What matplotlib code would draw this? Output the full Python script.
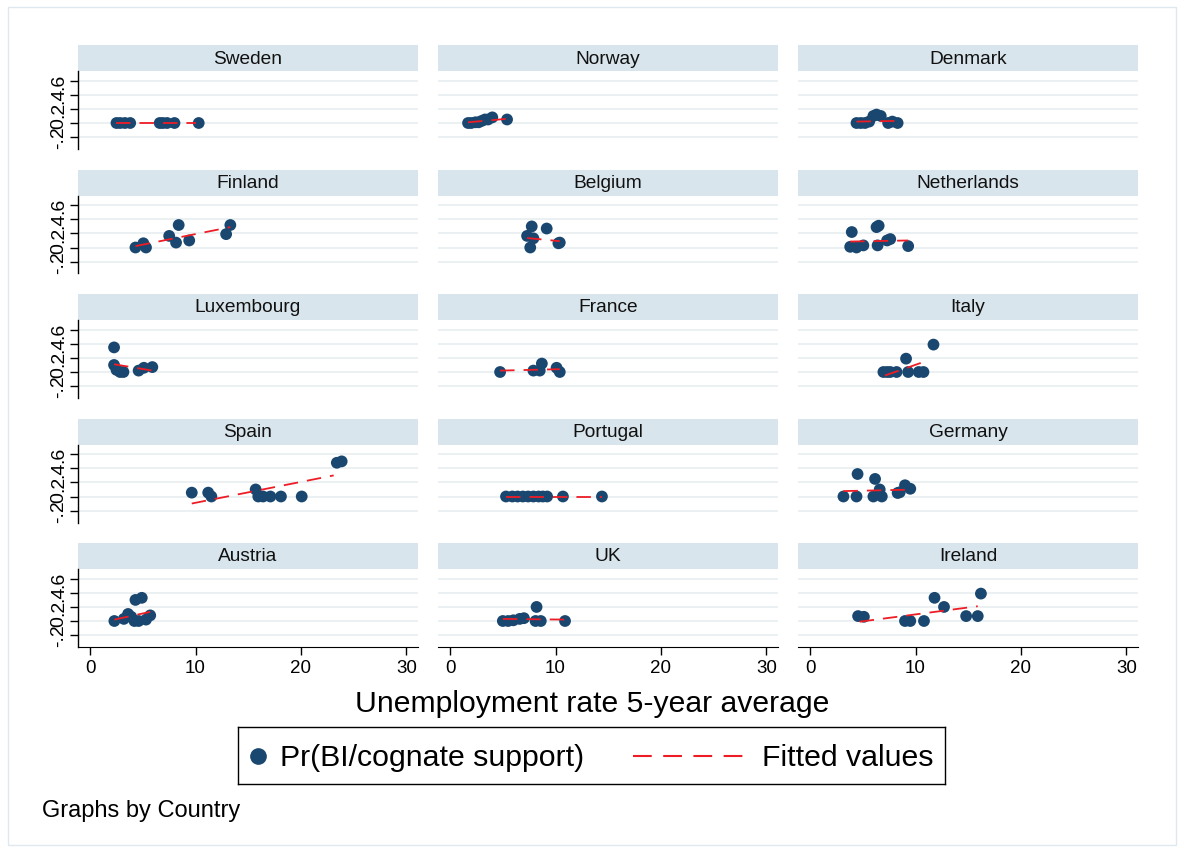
import matplotlib
matplotlib.use('Agg')
import matplotlib.pyplot as plt
from matplotlib.patches import Rectangle

plt.rcParams['font.family'] = ['Liberation Sans', 'DejaVu Sans']

countries = ['Sweden', 'Norway', 'Denmark', 'Finland', 'Belgium', 'Netherlands',
             'Luxembourg', 'France', 'Italy', 'Spain', 'Portugal', 'Germany',
             'Austria', 'UK', 'Ireland']

# unemployment rate (5-year avg) and predicted support, per country
sweden_x = [2.5, 2.85, 3.3, 3.8, 6.6, 6.9, 7.3, 8.0, 10.3]
sweden_y = [0, 0, 0, 0, 0, 0, 0, 0, 0]
norway_x = [1.7, 2.0, 2.4, 2.7, 3.0, 3.3, 3.6, 4.0, 5.4]
norway_y = [0.0, 0.0, 0.01, 0.01, 0.03, 0.05, 0.05, 0.08, 0.05]
denmark_x = [4.4, 4.8, 5.2, 5.6, 6.0, 6.3, 6.7, 7.4, 7.8, 8.3]
denmark_y = [0, 0, 0, 0.02, 0.1, 0.12, 0.1, 0, 0.02, 0]
finland_x = [4.3, 5.05, 5.3, 7.5, 8.15, 8.4, 9.4, 12.9, 13.3]
finland_y = [0, 0.06, 0, 0.165, 0.07, 0.32, 0.1, 0.19, 0.32]
belgium_x = [7.3, 7.6, 7.74, 7.9, 9.16, 10.27, 10.4]
belgium_y = [0.165, 0.0, 0.30, 0.13, 0.27, 0.06, 0.07]
netherlands_x = [3.8, 3.95, 4.4, 5.05, 6.3, 6.5, 6.4, 7.3, 7.6, 9.3]
netherlands_y = [0.01, 0.22, 0.0, 0.03, 0.29, 0.31, 0.03, 0.1, 0.12, 0.02]
luxembourg_x = [2.27, 2.27, 2.5, 2.84, 3.16, 4.6, 5.1, 5.9]
luxembourg_y = [0.35, 0.1, 0.03, 0, 0, 0.02, 0.06, 0.07]
france_x = [4.74, 7.9, 8.5, 8.7, 10.1, 10.4]
france_y = [0, 0.02, 0.02, 0.12, 0.06, 0]
italy_x = [6.95, 7.3, 7.6, 8.2, 9.1, 9.3, 10.3, 10.75, 11.7]
italy_y = [0, 0, 0, 0, 0.19, 0, 0, 0, 0.39]
spain_x = [9.64, 11.2, 11.5, 15.7, 15.95, 16.4, 17.1, 18.1, 20.07, 23.4, 23.86]
spain_y = [0.055, 0.055, 0, 0.1, 0, 0, 0, 0, 0, 0.48, 0.5]
portugal_x = [5.3, 5.9, 6.4, 6.9, 7.4, 7.9, 8.4, 8.8, 9.2, 10.7, 14.4]
portugal_y = [0, 0, 0, 0, 0, 0, 0, 0, 0, 0, 0]
germany_x = [3.16, 4.4, 4.5, 6.0, 6.16, 6.6, 6.8, 8.3, 8.5, 9.0, 9.5]
germany_y = [0, 0, 0.32, 0, 0.25, 0.1, 0, 0.05, 0.06, 0.16, 0.11]
austria_x = [2.3, 3.2, 3.6, 3.9, 4.2, 4.3, 4.6, 4.9, 5.3, 5.7]
austria_y = [0, 0.03, 0.1, 0.06, 0.0, 0.3, 0.0, 0.33, 0.02, 0.08]
uk_x = [5.0, 5.5, 6.0, 6.6, 7.0, 8.1, 8.2, 8.6, 10.9]
uk_y = [0, 0, 0.01, 0.03, 0.04, 0, 0.2, 0, 0]
ireland_x = [4.55, 5.1, 9.0, 9.5, 10.8, 11.8, 12.7, 14.8, 15.9, 16.2]
ireland_y = [0.07, 0.06, 0, 0, 0, 0.33, 0.2, 0.07, 0.07, 0.39]

# fitted values: start/end of the linear fit for each country
fit_x0 = [2.5, 1.7, 4.4, 4.3, 7.3, 3.8, 2.27, 4.74, 7.1, 9.64, 5.3, 3.16, 2.3, 5.0, 4.7]
fit_x1 = [10.0, 5.4, 8.3, 13.3, 10.4, 9.3, 5.9, 10.4, 10.9, 23.1, 14.4, 9.5, 5.7, 10.9, 15.9]
fit_y0 = [0.0, 0.01, 0.02, 0.02, 0.135, 0.085, 0.11, 0.02, -0.05, -0.1, 0.0, 0.077, 0.02, 0.03, -0.01]
fit_y1 = [0.0, 0.06, 0.03, 0.29, 0.09, 0.10, 0.02, 0.04, 0.15, 0.30, 0.0, 0.097, 0.13, 0.02, 0.21]

xs = [sweden_x, norway_x, denmark_x, finland_x, belgium_x, netherlands_x,
      luxembourg_x, france_x, italy_x, spain_x, portugal_x, germany_x,
      austria_x, uk_x, ireland_x]
ys = [sweden_y, norway_y, denmark_y, finland_y, belgium_y, netherlands_y,
      luxembourg_y, france_y, italy_y, spain_y, portugal_y, germany_y,
      austria_y, uk_y, ireland_y]

navy = '#1a476f'
fit_red = '#ee1c25'
strip_col = '#d9e5ec'
grid_col = '#e9f0f2'
dash = (0, (8, 5))

W, H = 1184, 854
fig = plt.figure(figsize=(W / 100, H / 100), dpi=100)
fig.patch.set_facecolor('white')


def box(left, top, width, height):
    # pixel box (top-left origin) -> figure fraction rect
    return [left / W, 1 - (top + height) / H, width / W, height / H]


# light frame round the graph region
fig.add_artist(Rectangle((8 / W, 8 / H), 1 - 16 / W, 1 - 16 / H, transform=fig.transFigure,
                         fill=False, edgecolor='#dfe8ee', linewidth=1))

col_left = [78, 438, 798]
panel_w = 340
strip_top0 = 46
row_pitch = 124.5
strip_h = 26
plot_h = 78

for i, name in enumerate(countries):
    r, c = divmod(i, 3)
    left = col_left[c]
    s_top = strip_top0 + r * row_pitch
    p_top = s_top + strip_h

    sax = fig.add_axes(box(left, s_top, panel_w, strip_h))
    sax.set_facecolor(strip_col)
    sax.set_xticks([])
    sax.set_yticks([])
    for sp in sax.spines.values():
        sp.set_visible(False)
    sax.text(0.5, 0.5, name, ha='center', va='center', fontsize=13.8, color='#111111',
             transform=sax.transAxes)

    ax = fig.add_axes(box(left, p_top, panel_w, plot_h))
    ax.set_xlim(-1.15, 31.1)
    ax.set_ylim(-0.37, 0.74)
    ax.set_yticks([-0.2, 0, 0.2, 0.4, 0.6])
    ax.yaxis.grid(True, color=grid_col, linewidth=1.3)
    ax.set_axisbelow(True)
    for sp in ['top', 'right']:
        ax.spines[sp].set_visible(False)

    ax.plot([fit_x0[i], fit_x1[i]], [fit_y0[i], fit_y1[i]], color=fit_red, lw=1.3,
            linestyle=dash, zorder=3)
    ax.scatter(xs[i], ys[i], s=72, color=navy, edgecolors='none', zorder=2)

    if c == 0:
        ax.spines['left'].set_color('black')
        ax.spines['left'].set_linewidth(1)
        ax.set_yticklabels(['-.2', '0', '.2', '.4', '.6'], rotation=90, va='center', fontsize=14)
        ax.tick_params(axis='y', length=6, width=1, pad=2)
    else:
        ax.spines['left'].set_visible(False)
        ax.tick_params(axis='y', left=False, labelleft=False)

    if r == 4:
        ax.set_xticks([0, 10, 20, 30])
        ax.set_xticklabels(['0', '10', '20', '30'], fontsize=13.5)
        ax.tick_params(axis='x', length=6, width=1, pad=3)
        ax.spines['bottom'].set_color('black')
    else:
        ax.spines['bottom'].set_visible(False)
        ax.tick_params(axis='x', bottom=False, labelbottom=False)

fig.text(592 / W, 1 - 704 / H, 'Unemployment rate 5-year average', ha='center', va='center',
         fontsize=21.7)

# legend box, laid out in pixel units
lax = fig.add_axes(box(238, 728, 707, 57))
lax.set_xlim(238, 945)
lax.set_ylim(785, 728)
lax.set_xticks([])
lax.set_yticks([])
for sp in lax.spines.values():
    sp.set_color('black')
    sp.set_linewidth(1)
lax.plot([258], [757], marker='o', markersize=11, color=navy, linestyle='none')
lax.text(280, 758, 'Pr(BI/cognate support)', ha='left', va='center', fontsize=21.8)
lax.plot([633, 745], [757, 757], color=fit_red, lw=1.5, linestyle=(0, (9, 5.5)))
lax.text(762, 758, 'Fitted values', ha='left', va='center', fontsize=21.8)

fig.text(42 / W, 1 - 811 / H, 'Graphs by Country', ha='left', va='center', fontsize=17)

fig.savefig('out.png', dpi=100, facecolor='white')
